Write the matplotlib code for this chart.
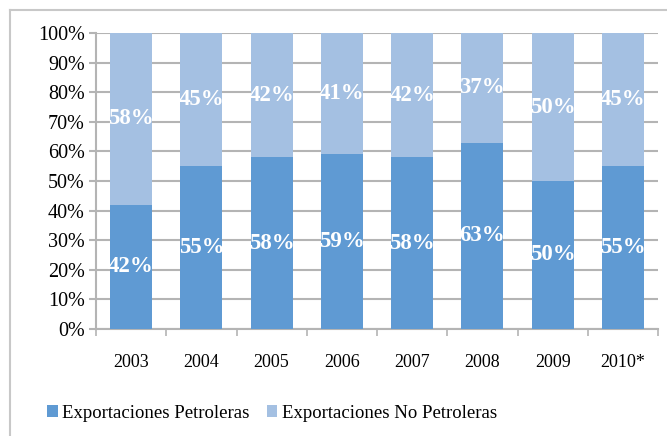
import numpy as np
import matplotlib
matplotlib.use("Agg")
import matplotlib.pyplot as plt
from matplotlib.lines import Line2D

years = ["2003", "2004", "2005", "2006", "2007", "2008", "2009", "2010*"]
petroleras = [42, 55, 58, 59, 58, 63, 50, 55]
no_petroleras = [58, 45, 42, 41, 42, 37, 50, 45]
y_ticks = [0, 10, 20, 30, 40, 50, 60, 70, 80, 90, 100]

DARK = "#5f9ad3"
LIGHT = "#a4c0e2"
GRID = "#b4b4b4"

plt.rcParams["font.family"] = ["Liberation Serif", "DejaVu Serif"]

fig = plt.figure(figsize=(6.67, 4.36), dpi=100)
ax = fig.add_axes([96 / 667, 1 - 329 / 436, (658 - 96) / 667, (329 - 33) / 436])

x = np.arange(len(years))
b1 = ax.bar(x, petroleras, width=0.6, color=DARK, zorder=3,
            label="Exportaciones Petroleras")
b2 = ax.bar(x, no_petroleras, width=0.6, bottom=petroleras, color=LIGHT,
            zorder=3, label="Exportaciones No Petroleras")

# value labels in the middle of each segment
for i in range(len(years)):
    ax.text(x[i], petroleras[i] / 2, f"{petroleras[i]}%", ha="center",
            va="center", color="white", fontsize=16.5, fontweight="bold", zorder=4)
    ax.text(x[i], petroleras[i] + no_petroleras[i] / 2, f"{no_petroleras[i]}%",
            ha="center", va="center", color="white", fontsize=16.5,
            fontweight="bold", zorder=4)

ax.set_xlim(-0.5, len(years) - 0.5)
ax.set_ylim(0, 100)
ax.set_yticks(y_ticks)
ax.set_yticklabels([f"{v}%" for v in y_ticks], fontsize=14.5)
ax.set_xticks(x)
ax.set_xticklabels(years, fontsize=13)
ax.set_xticks(np.arange(-0.5, len(years), 1), minor=True)

ax.grid(axis="y", color=GRID, linewidth=1.5, zorder=0)
ax.tick_params(axis="y", length=5, width=1.5, color=GRID, pad=3)
ax.tick_params(axis="x", which="major", length=0, pad=18)
ax.tick_params(axis="x", which="minor", length=5, width=1.2, color=GRID)

for s in ["top", "right"]:
    ax.spines[s].set_visible(False)
for s in ["left", "bottom"]:
    ax.spines[s].set_color(GRID)
    ax.spines[s].set_linewidth(1.5)

ax.legend(loc="center", bbox_to_anchor=(272 / 667, 1 - 413 / 436),
          bbox_transform=fig.transFigure, ncol=2, frameon=False,
          fontsize=13.5, handlelength=0.55, handleheight=0.55,
          handletextpad=0.25, columnspacing=0.9)

# outer frame of the chart area
fig.add_artist(Line2D([10 / 667, 10 / 667], [0, 1 - 10 / 436],
                      transform=fig.transFigure, color="#c8c8c8", linewidth=1.5))
fig.add_artist(Line2D([10 / 667, 1], [1 - 10 / 436, 1 - 10 / 436],
                      transform=fig.transFigure, color="#c8c8c8", linewidth=1.5))

plt.savefig("out.png", dpi=100)
plt.close()
